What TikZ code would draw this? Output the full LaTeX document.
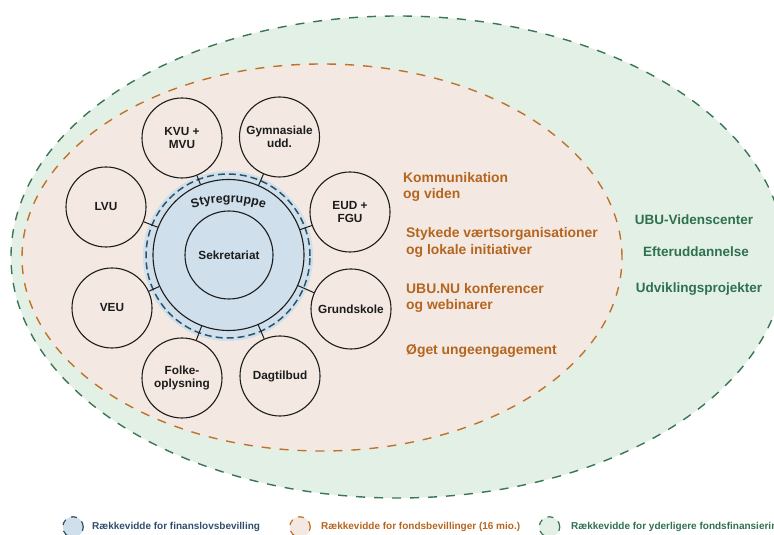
\documentclass[tikz,border=0pt]{standalone}
\usepackage{fontspec}
\setmainfont{Liberation Sans}
\usetikzlibrary{decorations.text}
\definecolor{grfill}{HTML}{E2F0E6}
\definecolor{grline}{HTML}{3A7656}
\definecolor{grtext}{HTML}{2F704F}
\definecolor{orfill}{HTML}{F3E9E2}
\definecolor{orline}{HTML}{C0722A}
\definecolor{ortext}{HTML}{B5651F}
\definecolor{blfill}{HTML}{CFE0EC}
\definecolor{blline}{HTML}{2B5566}
\definecolor{bltext}{HTML}{2F4E6C}
\definecolor{ink}{HTML}{1C1C1C}
\begin{document}
\begin{tikzpicture}[x=1pt,y=1pt,
  zone/.style={line width=1.4pt,dash pattern=on 9pt off 9pt},
  unit/.style={circle,draw=ink,line width=1.1pt,minimum size=80pt,inner sep=0pt,align=center,
    font=\fontsize{11.8}{13.5}\selectfont\bfseries,text=ink},
  tick/.style={draw=ink,line width=1pt},
  ortxt/.style={anchor=west,inner sep=0pt,align=left,text=ortext,font=\fontsize{13.9}{16.5}\selectfont\bfseries},
  grtxt/.style={anchor=center,inner sep=0pt,text=grtext,font=\fontsize{13.5}{16}\selectfont\bfseries},
  legc/.style={circle,minimum size=20.5pt,inner sep=0pt,line width=1.2pt,dash pattern=on 6pt off 6pt},
  legt/.style={anchor=west,inner sep=0pt,font=\fontsize{10}{12}\selectfont\bfseries}]
\useasboundingbox (0,0) rectangle (774,535);
\clip (0,0) rectangle (774,535);
% zones
\path[zone,fill=grfill,draw=grline] (398,278) ellipse [x radius=387,y radius=241];
\path[zone,fill=orfill,draw=orline] (322,277.5) ellipse [x radius=300,y radius=193.5];
% central
\fill[blfill] (228,279) circle [radius=85];
\draw[blline,line width=1.5pt,dash pattern=on 7pt off 4pt] (228,279) circle [radius=82];
\node[circle,draw=ink,line width=1.1pt,minimum size=151pt,inner sep=0pt] (sty) at (228.5,280) {};
\node[circle,draw=ink,line width=1.1pt,minimum size=88pt,inner sep=0pt,font=\fontsize{11.8}{13.5}\selectfont\bfseries,text=ink] (sek) at (229,280) {Sekretariat};
\path[decorate,decoration={text along path,text align=center,
  text={|\fontsize{12.5}{14}\selectfont\bfseries\color{ink}|Styregruppe}}]
  (228.5,212.5) ++(120:120) arc[start angle=120,end angle=60,radius=120];
% units
\node[unit] (kvu) at (182,397) {KVU +\\MVU};
\node[unit] (gym) at (279.5,398) {Gymnasiale\\udd.};
\node[unit] (lvu) at (106,328) {LVU};
\node[unit] (eud) at (350,323) {EUD +\\FGU};
\node[unit] (veu) at (112,227) {VEU};
\node[unit] (gru) at (351,226) {Grundskole};
\node[unit] (fol) at (182,157) {Folke-\\oplysning};
\node[unit] (dag) at (280,159) {Dagtilbud};
\foreach \n in {kvu,gym,lvu,eud,veu,gru,fol,dag} \draw[tick] (sty) -- (\n);
% orange texts
\node[ortxt] (t1) at (403,348) {Kommunikation\\og viden};
\node[ortxt] (t2) at (406,292.5) {Stykede værtsorganisationer\\og lokale initiativer};
\node[ortxt] (t3) at (406,237) {UBU.NU konferencer\\og webinarer};
\node[ortxt] (t4) at (406,184) {Øget ungeengagement};
% green texts
\node[grtxt] (g1) at (694,315) {UBU-Videnscenter};
\node[grtxt] (g2) at (696,283) {Efteruddannelse};
\node[grtxt] (g3) at (699,246) {Udviklingsprojekter};
% legend
\node[legc,fill=blfill,draw=blline] (l1) at (73,8) {};
\node[legt,text=bltext] (l1t) at (92,8) {Rækkevidde for finanslovsbevilling};
\node[legc,fill=orfill,draw=orline] (l2) at (300,8) {};
\node[legt,text=ortext] (l2t) at (321,8) {Rækkevidde for fondsbevillinger (16 mio.)};
\node[legc,fill=grfill,draw=grline] (l3) at (549.5,8) {};
\node[legt,text=grtext] (l3t) at (571,8) {Rækkevidde for yderligere fondsfinansiering};
\end{tikzpicture}
\end{document}
